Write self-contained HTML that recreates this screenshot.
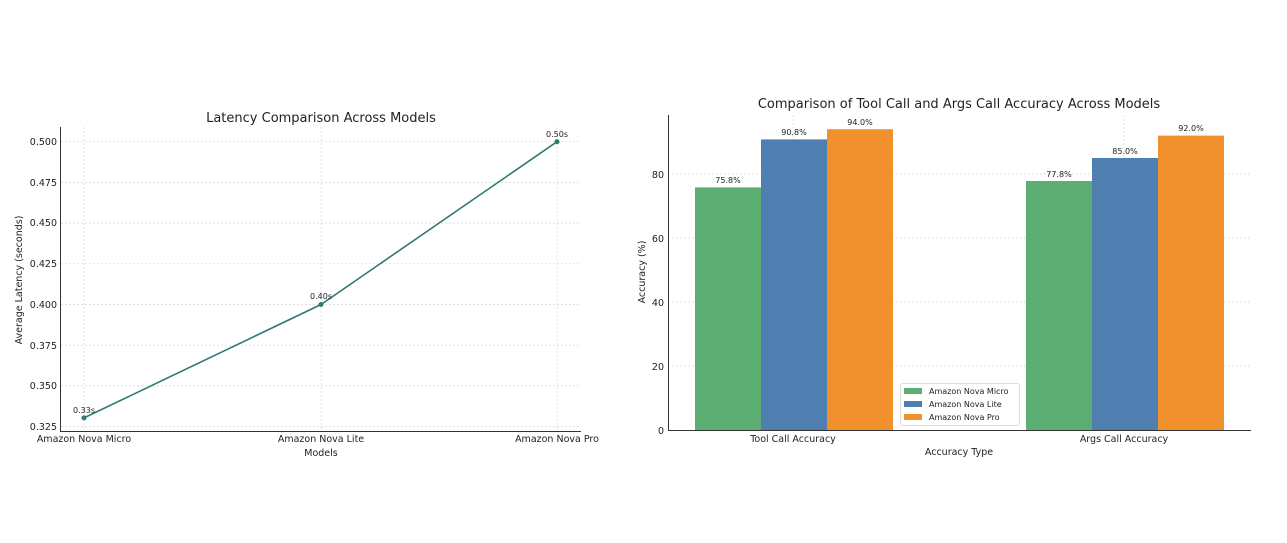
<!DOCTYPE html>
<html><head><meta charset="utf-8"><style>body{margin:0;background:#fff}svg{display:block}text{font-family:"DejaVu Sans","Liberation Sans",sans-serif;fill:#222}</style></head><body>
<svg width="1287" height="543" viewBox="0 0 1287 543" xmlns="http://www.w3.org/2000/svg">
<rect width="1287" height="543" fill="#fff"/>
<!-- LEFT CHART -->
<g stroke="#d6d6d6" stroke-width="0.7" stroke-dasharray="2,2">
<line x1="84" y1="127" x2="84" y2="431"/><line x1="321" y1="127" x2="321" y2="431"/><line x1="557" y1="127" x2="557" y2="431"/>
<line x1="61" y1="141.7" x2="581" y2="141.7"/><line x1="61" y1="182.4" x2="581" y2="182.4"/><line x1="61" y1="223.1" x2="581" y2="223.1"/><line x1="61" y1="263.8" x2="581" y2="263.8"/><line x1="61" y1="304.5" x2="581" y2="304.5"/><line x1="61" y1="345.2" x2="581" y2="345.2"/><line x1="61" y1="385.9" x2="581" y2="385.9"/><line x1="61" y1="426.6" x2="581" y2="426.6"/>
</g>
<g stroke="#333" stroke-width="1"><line x1="60.5" y1="127" x2="60.5" y2="431"/><line x1="60" y1="431.5" x2="581" y2="431.5"/></g>
<g font-size="9.5" text-anchor="end">
<text x="57" y="145">0.500</text><text x="57" y="186">0.475</text><text x="57" y="226">0.450</text><text x="57" y="267">0.425</text><text x="57" y="308">0.400</text><text x="57" y="349">0.375</text><text x="57" y="389">0.350</text><text x="57" y="430">0.325</text>
</g>
<g font-size="9.5" text-anchor="middle">
<text x="84" y="442">Amazon Nova Micro</text><text x="321" y="442">Amazon Nova Lite</text><text x="557" y="442">Amazon Nova Pro</text>
<text x="321" y="456">Models</text>
</g>
<text x="22" y="280" font-size="9.5" text-anchor="middle" transform="rotate(-90 22 280)">Average Latency (seconds)</text>
<text x="321" y="122" font-size="13" text-anchor="middle" fill="#333">Latency Comparison Across Models</text>
<polyline points="84,417.9 321,304.5 557,141.7" fill="none" stroke="#2e7b76" stroke-width="1.6"/>
<g fill="#2e7b76"><circle cx="84" cy="417.9" r="2.5"/><circle cx="321" cy="304.5" r="2.5"/><circle cx="557" cy="141.7" r="2.5"/></g>
<g font-size="8" text-anchor="middle" fill="#444"><text x="84" y="413">0.33s</text><text x="321" y="299">0.40s</text><text x="557" y="137">0.50s</text></g>
<!-- RIGHT CHART -->
<g stroke="#d6d6d6" stroke-width="0.7" stroke-dasharray="2,2">
<line x1="793" y1="115" x2="793" y2="430"/><line x1="1124" y1="115" x2="1124" y2="430"/>
<line x1="668" y1="174" x2="1251" y2="174"/><line x1="668" y1="238" x2="1251" y2="238"/><line x1="668" y1="302" x2="1251" y2="302"/><line x1="668" y1="366" x2="1251" y2="366"/>
</g>
<g>
<rect x="695" y="187.4" width="66" height="242.6" fill="#5dae73"/>
<rect x="761" y="139.4" width="66" height="290.6" fill="#4f7eb0"/>
<rect x="827" y="129.2" width="66" height="300.8" fill="#f0912e"/>
<rect x="1026" y="181" width="66" height="249" fill="#5dae73"/>
<rect x="1092" y="158" width="66" height="272" fill="#4f7eb0"/>
<rect x="1158" y="135.6" width="66" height="294.4" fill="#f0912e"/>
</g>
<g font-size="8" text-anchor="middle" fill="#333">
<text x="728" y="183">75.8%</text><text x="794" y="135">90.8%</text><text x="860" y="125">94.0%</text>
<text x="1059" y="177">77.8%</text><text x="1125" y="154">85.0%</text><text x="1191" y="131">92.0%</text>
</g>
<g stroke="#333" stroke-width="1"><line x1="668.5" y1="115" x2="668.5" y2="430"/><line x1="668" y1="430.5" x2="1251" y2="430.5"/></g>
<g font-size="9.5" text-anchor="end">
<text x="664" y="178">80</text><text x="664" y="242">60</text><text x="664" y="306">40</text><text x="664" y="370">20</text><text x="664" y="434">0</text>
</g>
<g font-size="9.5" text-anchor="middle">
<text x="793" y="442">Tool Call Accuracy</text><text x="1124" y="442">Args Call Accuracy</text>
<text x="959" y="455">Accuracy Type</text>
</g>
<text x="645" y="272" font-size="9.5" text-anchor="middle" transform="rotate(-90 645 272)">Accuracy (%)</text>
<text x="959" y="108" font-size="13" text-anchor="middle" fill="#333">Comparison of Tool Call and Args Call Accuracy Across Models</text>
<rect x="900.5" y="383.5" width="119" height="42" rx="2" fill="#fff" fill-opacity="0.85" stroke="#ddd"/>
<rect x="904" y="388" width="18" height="6" fill="#5dae73"/>
<rect x="904" y="401" width="18" height="6" fill="#4f7eb0"/>
<rect x="904" y="414" width="18" height="6" fill="#f0912e"/>
<g font-size="8" fill="#333"><text x="929" y="394">Amazon Nova Micro</text><text x="929" y="407">Amazon Nova Lite</text><text x="929" y="420">Amazon Nova Pro</text></g>
</svg>
</body></html>
